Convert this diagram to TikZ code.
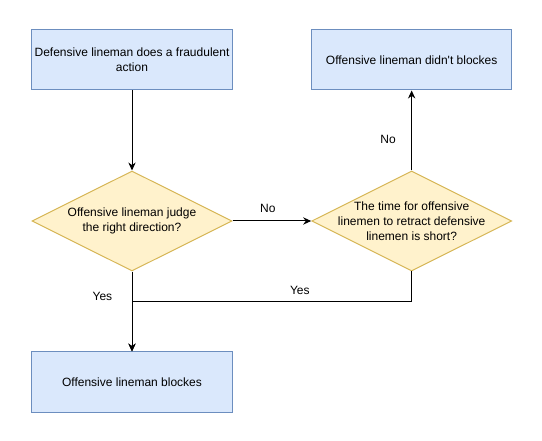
\documentclass[tikz,border=0pt]{standalone}
\usepackage{fontspec}
\setmainfont{Liberation Sans}
\usetikzlibrary{shapes.geometric,arrows.meta,positioning,calc}
\definecolor{procfill}{HTML}{DAE8FC}
\definecolor{procline}{HTML}{6C8EBF}
\definecolor{askfill}{HTML}{FFF2CC}
\definecolor{askline}{HTML}{D6B656}

\begin{document}
\begin{tikzpicture}[
  node distance=60pt and 59pt,
  font=\fontsize{9pt}{11.25pt}\selectfont,
  box/.style={rectangle, draw=procline, line width=0.75pt, fill=procfill,
              minimum width=150pt, minimum height=45pt, align=center,
              inner sep=2pt},
  decision/.style={diamond, draw=askline, line width=0.75pt, fill=askfill,
                   minimum width=150pt, minimum height=75pt, inner sep=0pt},
  qtext/.style={align=center, inner sep=0pt},
  arr/.style={-{Stealth[length=6pt, width=5.5pt]}, line width=0.75pt},
  lab/.style={inner sep=0pt}
]
\useasboundingbox (-99pt,45pt) rectangle (307.5pt,-285.75pt);

% ---- start ----
\node[box] (foul) at (0,0) {Defensive lineman does a fraudulent\\action};

% ---- questions ----
\node[decision, below=of foul,
      label={[qtext]center:{Offensive lineman judge\\the right direction?}}] (judge) {};
\node[decision, right=of judge,
      label={[qtext]center:{The time for offensive\\linemen to retract defensive\\linemen is short?}}] (short) {};

% ---- outcomes ----
\node[box, above=of short] (noblock) {Offensive lineman didn\textquotesingle t blockes};
\node[box, below=of judge] (block) {Offensive lineman blockes};

\coordinate (join) at ($(judge.south)!0.375!(block.north)$);

% arrows
\draw[arr] (foul) -- (judge);
\draw[arr] (judge) -- node[lab, above=6pt, pos=0.45] {No} (short);
\draw[arr] (short) -- node[lab, left=11.5pt, pos=0.39] {No} (noblock);
\draw[arr] (judge) -- node[lab, left=14.5pt, pos=0.31] {Yes} (block);
\draw[arr] (short.south) |- node[lab, above=5pt, pos=0.7] {Yes} (join) -- (block.north);
\end{tikzpicture}
\end{document}
